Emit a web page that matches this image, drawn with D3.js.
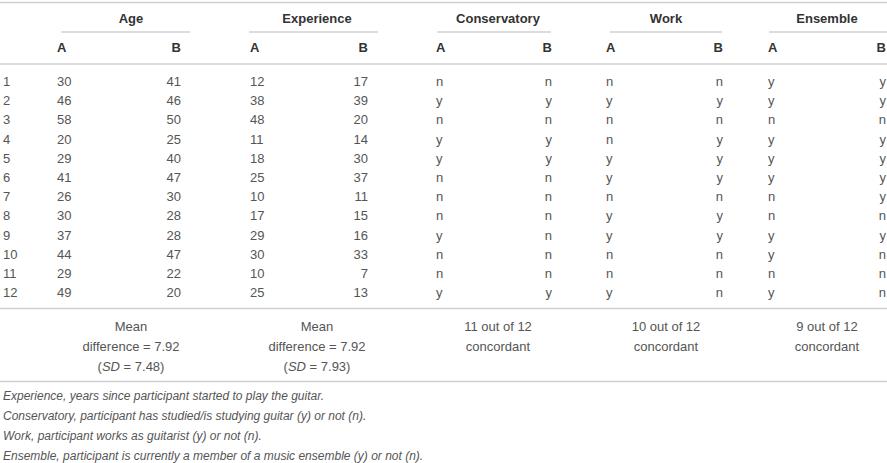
<!DOCTYPE html>
<html>
<head>
  <style>
    body {
      margin: 0;
      background: #fff;
    }
    text {
      font-family: "Liberation Sans", Arial, sans-serif;
      font-size: 13px;
      fill: #555;
    }
    text.head {
      font-weight: bold;
      fill: #333;
    }
    text.note {
      font-style: italic;
      font-size: 12px;
    }
    line.rule {
      stroke: #d0d0d0;
      stroke-width: 1.5;
    }
  </style>
</head>
<body>
  <script src="https://cdnjs.cloudflare.com/ajax/libs/d3/7.8.5/d3.min.js"></script>
  <script>
    // table data
    var participants = ["1", "2", "3", "4", "5", "6", "7", "8", "9", "10", "11", "12"];
    var groups = ["Age", "Experience", "Conservatory", "Work", "Ensemble"];
    var subHeads = ["A", "B"];
    var ageA = [30, 46, 58, 20, 29, 41, 26, 30, 37, 44, 29, 49];
    var ageB = [41, 46, 50, 25, 40, 47, 30, 28, 28, 47, 22, 20];
    var expA = [12, 38, 48, 11, 18, 25, 10, 17, 29, 30, 10, 25];
    var expB = [17, 39, 20, 14, 30, 37, 11, 15, 16, 33, 7, 13];
    var consA = ["n", "y", "n", "y", "y", "n", "n", "n", "y", "n", "n", "y"];
    var consB = ["n", "y", "n", "y", "y", "n", "n", "n", "n", "n", "n", "y"];
    var workA = ["n", "y", "n", "n", "y", "y", "n", "y", "y", "n", "n", "y"];
    var workB = ["n", "y", "n", "y", "y", "y", "n", "y", "y", "n", "n", "n"];
    var ensA = ["y", "y", "n", "y", "y", "y", "n", "n", "y", "y", "n", "y"];
    var ensB = ["y", "y", "n", "y", "y", "y", "y", "n", "y", "n", "n", "n"];
    var summaries = [
      ["Mean", "difference = 7.92", ["(", "SD", " = 7.48)"]],
      ["Mean", "difference = 7.92", ["(", "SD", " = 7.93)"]],
      ["11 out of 12", "concordant"],
      ["10 out of 12", "concordant"],
      ["9 out of 12", "concordant"]
    ];
    var notes = [
      "Experience, years since participant started to play the guitar.",
      "Conservatory, participant has studied/is studying guitar (y) or not (n).",
      "Work, participant works as guitarist (y) or not (n).",
      "Ensemble, participant is currently a member of a music ensemble (y) or not (n)."
    ];

    var columns = [[ageA, ageB], [expA, expB], [consA, consB], [workA, workB], [ensA, ensB]];

    var width = 887, height = 463;
    var svg = d3.select("body").append("svg")
        .attr("width", width)
        .attr("height", height);

    // layout (pixels)
    var colLeft = [57, 250, 436, 606, 768],     // A column, left aligned
        colRight = [181, 368, 552, 723, 886],   // B column, right aligned
        groupMid = [131, 317, 498, 666, 827],
        ruleL = [61, 249, 437, 610, 769],
        ruleR = [190, 378, 551, 722, 887];

    var y = d3.scaleLinear()
        .domain([0, participants.length - 1])
        .range([86, 86 + 19.2 * (participants.length - 1)]);

    function rule(yy, x1, x2) {
      svg.append("line").attr("class", "rule")
          .attr("x1", x1).attr("x2", x2)
          .attr("y1", yy).attr("y2", yy);
    }

    rule(2.5, 0, width);
    rule(64, 0, width);
    rule(308.5, 0, width);
    rule(381.5, 0, width);

    // group headers
    svg.selectAll("text.group")
        .data(groups)
      .enter().append("text")
        .attr("class", "head group")
        .attr("x", (d, i) => groupMid[i])
        .attr("y", 23)
        .style("text-anchor", "middle")
        .text(d => d);

    groups.forEach((g, i) => rule(32, ruleL[i], ruleR[i]));

    // A / B sub headers
    groups.forEach((g, i) => {
      svg.append("text").attr("class", "head")
          .attr("x", colLeft[i]).attr("y", 52)
          .text(subHeads[0]);
      svg.append("text").attr("class", "head")
          .attr("x", colRight[i]).attr("y", 52)
          .style("text-anchor", "end")
          .text(subHeads[1]);
    });

    // participant numbers
    svg.selectAll("text.num")
        .data(participants)
      .enter().append("text")
        .attr("class", "num")
        .attr("x", 3)
        .attr("y", (d, i) => y(i))
        .text(d => d);

    // body cells
    columns.forEach((pair, gi) => {
      svg.selectAll("text.a" + gi)
          .data(pair[0])
        .enter().append("text")
          .attr("class", "a" + gi)
          .attr("x", colLeft[gi])
          .attr("y", (d, i) => y(i))
          .text(d => d);
      svg.selectAll("text.b" + gi)
          .data(pair[1])
        .enter().append("text")
          .attr("class", "b" + gi)
          .attr("x", colRight[gi])
          .attr("y", (d, i) => y(i))
          .style("text-anchor", "end")
          .text(d => d);
    });

    // summary row
    summaries.forEach((lines, gi) => {
      lines.forEach((ln, li) => {
        var t = svg.append("text")
            .attr("x", groupMid[gi])
            .attr("y", 331 + li * 20)
            .style("text-anchor", "middle");
        if (Array.isArray(ln)) {
          ln.forEach((part, pi) => {
            t.append("tspan")
                .style("font-style", pi === 1 ? "italic" : null)
                .text(part);
          });
        } else {
          t.text(ln);
        }
      });
    });

    // footnotes
    svg.selectAll("text.note")
        .data(notes)
      .enter().append("text")
        .attr("class", "note")
        .attr("x", 3)
        .attr("y", (d, i) => 400 + i * 20)
        .text(d => d);
  </script>
</body>
</html>
